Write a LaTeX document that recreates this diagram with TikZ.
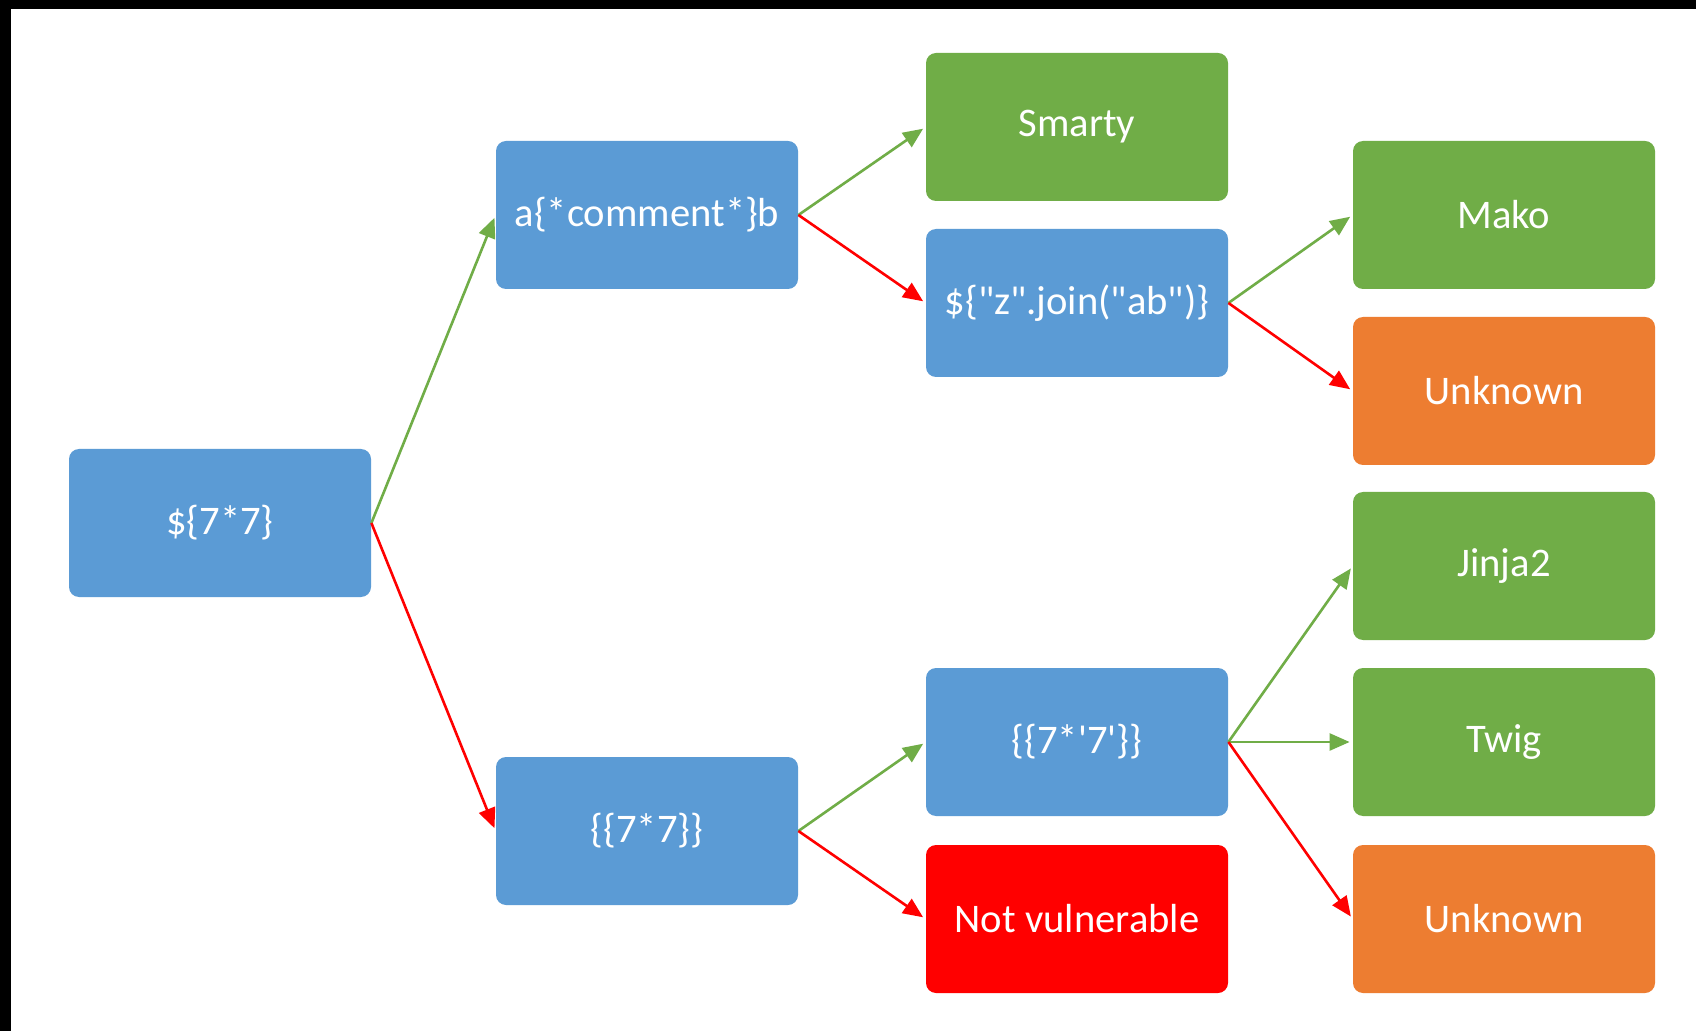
\documentclass[tikz,border=0pt]{standalone}
\usepackage{fontspec}
\setmainfont{Carlito}
\newfontfamily\carl{Carlito}
\usetikzlibrary{arrows.meta}
\definecolor{cblue}{HTML}{5B9BD5}
\definecolor{cgreen}{HTML}{70AD47}
\definecolor{corange}{HTML}{ED7D31}
\definecolor{cred}{HTML}{FF0000}
\begin{document}
\begin{tikzpicture}[x=0.5pt,y=-0.5pt,
  box/.style={rounded corners=5pt, minimum width=151pt, minimum height=74pt, inner sep=0pt, text=white, font=\carl\fontsize{20.3}{24}\selectfont},
  bluebox/.style={box, fill=cblue},
  greenbox/.style={box, fill=cgreen},
  orangebox/.style={box, fill=corange},
  redbox/.style={box, fill=cred},
  yes/.style={draw=cgreen, line width=1.3pt, -{Triangle[length=10pt,width=8.5pt]}, shorten >=1.5pt},
  no/.style={draw=cred, line width=1.3pt, -{Triangle[length=10pt,width=8.5pt]}, shorten >=1.5pt}]
\useasboundingbox (0,0) rectangle (1696,1031);
\fill[white] (0,0) rectangle (1696,1031);
\fill[black] (0,0) rectangle (1696,9);
\fill[black] (0,0) rectangle (11,1031);

\node[bluebox] (root) at (220,523) {\$\{7*7\}};
\node[bluebox] (comment) at (647,215) {a\{*comment*\}b};
\node[bluebox] (jinja) at (647,831) {\{\{7*7\}\}};
\node[greenbox] (smarty) at (1077,127) {Smarty};
\node[bluebox] (join) at (1077,303) {\$\{"z".join("ab")\}};
\node[bluebox] (seven) at (1077,742) {\{\{7*'7'\}\}};
\node[redbox] (notvuln) at (1077,919) {Not vulnerable};
\node[greenbox] (mako) at (1504,215) {Mako};
\node[orangebox] (unk1) at (1504,391) {Unknown};
\node[greenbox] (jinja2) at (1504,566) {Jinja2};
\node[greenbox] (twig) at (1504,742) {Twig};
\node[orangebox] (unk2) at (1504,919) {Unknown};

\draw[yes] (root.east) -- (comment.west);
\draw[no] (root.east) -- (jinja.west);
\draw[yes] (comment.east) -- (smarty.west);
\draw[no] (comment.east) -- (join.west);
\draw[yes] (join.east) -- (mako.west);
\draw[no] (join.east) -- (unk1.west);
\draw[yes] (jinja.east) -- (seven.west);
\draw[no] (jinja.east) -- (notvuln.west);
\draw[yes] (seven.east) -- (jinja2.west);
\draw[yes] (seven.east) -- (twig.west);
\draw[no] (seven.east) -- (unk2.west);
\end{tikzpicture}
\end{document}
